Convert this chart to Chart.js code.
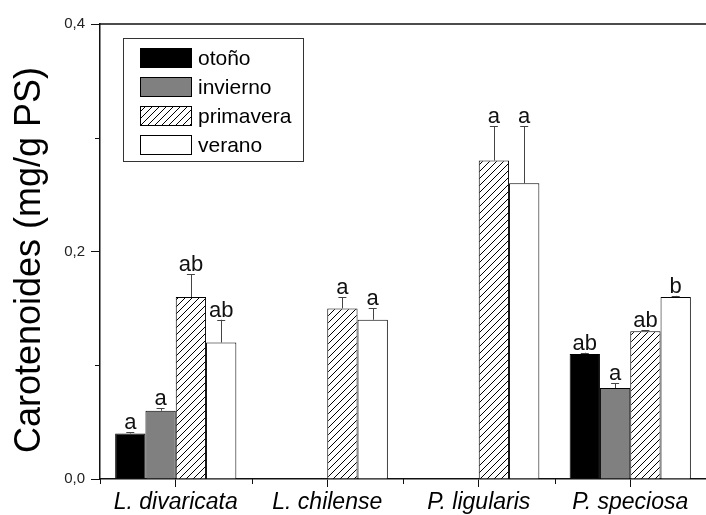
<!DOCTYPE html>
<html>
<head>
<meta charset="utf-8">
<script src="https://cdn.jsdelivr.net/npm/chart.js@4/dist/chart.umd.min.js"></script>
<style>
html,body{margin:0;padding:0;background:#fff;}
#wrap{position:relative;width:706px;height:515px;}
</style>
</head>
<body>
<div id="wrap"><canvas id="c" width="706" height="515"></canvas></div>
<script>
// ---- data ----
const categories = ['L. divaricata', 'L. chilense', 'P. ligularis', 'P. speciosa'];
const seasons = ['otoño', 'invierno', 'primavera', 'verano'];
const otono     = [0.04, null, null, 0.11];
const invierno  = [0.06, null, null, 0.08];
const primavera = [0.16, 0.15, 0.28, 0.13];
const verano    = [0.12, 0.14, 0.26, 0.16];
const otonoErr     = [0.001, null, null, 0.001];
const inviernoErr  = [0.002, null, null, 0.004];
const primaveraErr = [0.02, 0.01, 0.03, 0.001];
const veranoErr    = [0.02, 0.01, 0.05, 0.001];
const otonoLetters     = ['a', '', '', 'ab'];
const inviernoLetters  = ['a', '', '', 'a'];
const primaveraLetters = ['ab', 'a', 'a', 'ab'];
const veranoLetters    = ['ab', 'a', 'a', 'b'];
const yTicks = [0, 0.2, 0.4];
const yTitle = 'Carotenoides (mg/g PS)';

const seriesValues = [otono, invierno, primavera, verano];
const seriesErrors = [otonoErr, inviernoErr, primaveraErr, veranoErr];
const seriesLetters = [otonoLetters, inviernoLetters, primaveraLetters, veranoLetters];

// hatch pattern
function makeHatch() {
  const s = 7;
  const pc = document.createElement('canvas');
  pc.width = s; pc.height = s;
  const g = pc.getContext('2d');
  g.fillStyle = '#fff'; g.fillRect(0, 0, s, s);
  g.strokeStyle = '#000'; g.lineWidth = 1;
  g.beginPath();
  g.moveTo(-1, s + 1); g.lineTo(s + 1, -1);
  g.moveTo(-1, 1); g.lineTo(1, -1);
  g.moveTo(s - 1, s + 1); g.lineTo(s + 1, s - 1);
  g.stroke();
  return document.getElementById('c').getContext('2d').createPattern(pc, 'repeat');
}
const hatch = makeHatch();
const fills = ['#000000', '#808080', hatch, '#ffffff'];

const decor = {
  id: 'decor',
  afterDatasetsDraw(chart) {
    const ctx = chart.ctx;
    const ys = chart.scales.y;
    ctx.save();
    seriesValues.forEach((vals, i) => {
      const meta = chart.getDatasetMeta(i);
      meta.data.forEach((bar, j) => {
        const v = vals[j];
        if (v == null) return;
        const e = seriesErrors[i][j] || 0;
        const yTop = ys.getPixelForValue(v + e);
        ctx.strokeStyle = '#444'; ctx.lineWidth = 1;
        ctx.beginPath();
        ctx.moveTo(Math.round(bar.x) + 0.5, bar.y);
        ctx.lineTo(Math.round(bar.x) + 0.5, yTop);
        ctx.moveTo(bar.x - 4, Math.round(yTop) + 0.5);
        ctx.lineTo(bar.x + 4, Math.round(yTop) + 0.5);
        ctx.stroke();
        const t = seriesLetters[i][j];
        if (t) {
          ctx.fillStyle = '#111';
          ctx.font = '22px "Liberation Sans", Arial, sans-serif';
          ctx.textAlign = 'center'; ctx.textBaseline = 'alphabetic';
          ctx.fillText(t, bar.x, yTop - 3);
        }
      });
    });
    ctx.restore();
  },
  afterDraw(chart) {
    const ctx = chart.ctx;
    const a = chart.chartArea;
    const xs = chart.scales.x, ys = chart.scales.y;
    ctx.save();
    // top border
    ctx.strokeStyle = '#111'; ctx.lineWidth = 1.5;
    ctx.beginPath(); ctx.moveTo(a.left, a.top); ctx.lineTo(chart.width + 10, a.top); ctx.stroke();
    // minor y ticks
    ctx.lineWidth = 1;
    [0.1, 0.3].forEach(v => {
      const y = Math.round(ys.getPixelForValue(v)) + 0.5;
      ctx.beginPath(); ctx.moveTo(a.left - 5, y); ctx.lineTo(a.left, y); ctx.stroke();
    });
    // minor x ticks at category boundaries
    for (let j = 0; j < categories.length; j++) {
      const x = Math.round(xs.getPixelForValue(j) - (xs.getPixelForValue(1) - xs.getPixelForValue(0)) / 2) + 0.5;
      ctx.beginPath(); ctx.moveTo(x, a.bottom); ctx.lineTo(x, a.bottom + 5); ctx.stroke();
    }
    // legend
    const lx = 123, ly = 38, lw = 180, lh = 123;
    ctx.fillStyle = '#fff';
    ctx.fillRect(lx, ly, lw, lh);
    ctx.strokeStyle = '#333'; ctx.lineWidth = 1;
    ctx.strokeRect(lx + 0.5, ly + 0.5, lw, lh);
    seasons.forEach((s, i) => {
      const cy = 58 + i * 29;
      ctx.fillStyle = fills[i];
      ctx.fillRect(140, cy - 10, 52, 20);
      ctx.strokeStyle = '#000';
      ctx.strokeRect(140.5, cy - 9.5, 51, 19);
      ctx.fillStyle = '#000';
      ctx.font = '21px "Liberation Sans", Arial, sans-serif';
      ctx.textAlign = 'left'; ctx.textBaseline = 'middle';
      ctx.fillText(s, 198, cy + 1);
    });
    // y title
    ctx.translate(30, 260);
    ctx.rotate(-Math.PI / 2);
    ctx.fillStyle = '#000';
    ctx.font = '36px "Liberation Sans", Arial, sans-serif';
    ctx.textAlign = 'center'; ctx.textBaseline = 'middle';
    ctx.fillText(yTitle, 0, 0);
    ctx.restore();
  }
};

new Chart(document.getElementById('c'), {
  type: 'bar',
  data: {
    labels: categories,
    datasets: seasons.map((s, i) => ({
      label: s,
      data: seriesValues[i],
      backgroundColor: fills[i],
      borderColor: '#000',
      borderWidth: 1,
      borderSkipped: 'bottom',
      categoryPercentage: 0.8,
      barPercentage: 1.0
    }))
  },
  options: {
    responsive: false,
    animation: false,
    layout: { padding: { left: 0, right: -8, top: 24, bottom: 0 } },
    plugins: { legend: { display: false }, tooltip: { enabled: false } },
    scales: {
      x: {
        offset: true,
        grid: { display: true, drawOnChartArea: false, offset: false, tickLength: 8, color: '#111', lineWidth: 1 },
        border: { display: true, color: '#111', width: 1.5 },
        ticks: { color: '#000', padding: 2, maxRotation: 0,
          font: { family: '"Liberation Sans", Arial, sans-serif', size: 23, style: 'italic' } },
        afterFit(scale) { scale.height = 36; }
      },
      y: {
        min: 0, max: 0.4,
        afterBuildTicks(scale) { scale.ticks = yTicks.map(v => ({ value: v })); },
        grid: { display: true, drawOnChartArea: false, tickLength: 9, color: '#111', lineWidth: 1 },
        border: { display: true, color: '#111', width: 1.5 },
        ticks: { color: '#222', padding: 6,
          font: { family: '"Liberation Sans", Arial, sans-serif', size: 15 },
          callback: v => Number(v).toFixed(1).replace('.', ',') },
        afterFit(scale) { scale.width = 100; }
      }
    }
  },
  plugins: [decor]
});
</script>
</body>
</html>
